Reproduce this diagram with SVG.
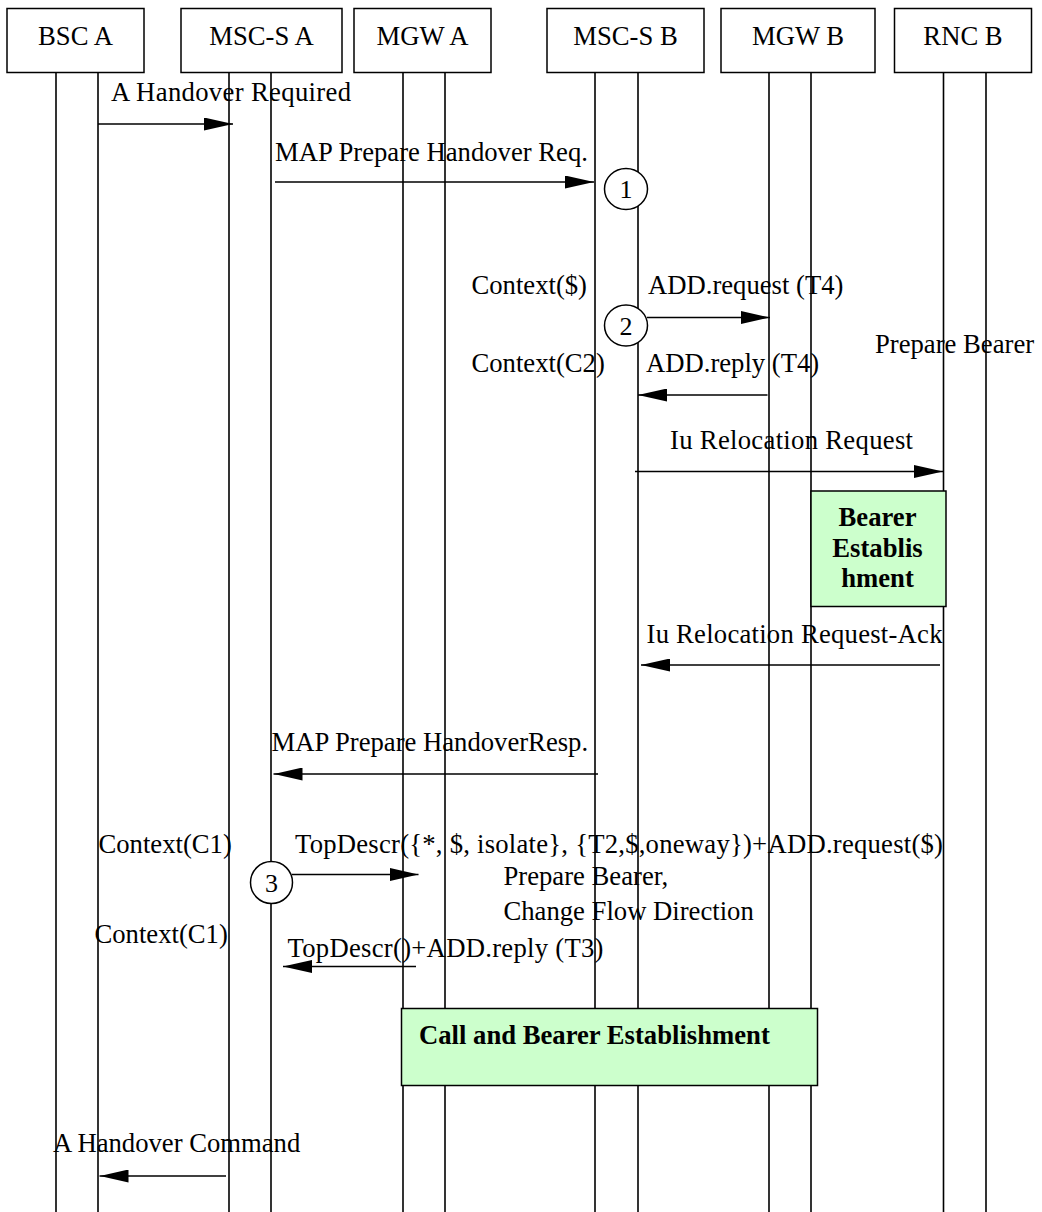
<svg xmlns="http://www.w3.org/2000/svg" width="1042" height="1212" viewBox="0 0 1042 1212">
<style>
text{font-family:"Liberation Serif","Times New Roman",serif;font-size:26.67px;fill:#000}
.hdr{fill:#fff;stroke:#000;stroke-width:1.5}
.life{stroke:#000;stroke-width:1.6}
.msg{stroke:#000;stroke-width:1.6;fill:none;marker-end:url(#ah)}
.note{fill:#CCFFCC;stroke:#000;stroke-width:1.5}
.circ{fill:#fff;stroke:#000;stroke-width:1.5}
.num{font-size:26px;text-anchor:middle}
.b{font-weight:bold}
.c{text-anchor:middle}
</style>
<defs>
<marker id="ah" markerUnits="userSpaceOnUse" markerWidth="29" markerHeight="13" refX="29" refY="6.5" orient="auto">
<path d="M0,0 L29,6.5 L0,13 z" fill="#000"/>
</marker>
</defs>
<rect width="1042" height="1212" fill="#fff"/>

<g id="bsc-a">
<line class="life" x1="56" y1="73" x2="56" y2="1212"/>
<line class="life" x1="98" y1="73" x2="98" y2="1212"/>
<rect class="hdr" x="7" y="8.5" width="137" height="64"/>
<text class="c" x="75.5" y="45">BSC A</text>
</g>
<g id="msc-s-a">
<line class="life" x1="229" y1="73" x2="229" y2="1212"/>
<line class="life" x1="271" y1="73" x2="271" y2="1212"/>
<rect class="hdr" x="181" y="8.5" width="161" height="64"/>
<text class="c" x="261.5" y="45">MSC-S A</text>
</g>
<g id="mgw-a">
<line class="life" x1="403" y1="73" x2="403" y2="1212"/>
<line class="life" x1="445" y1="73" x2="445" y2="1212"/>
<rect class="hdr" x="354" y="8.5" width="137" height="64"/>
<text class="c" x="422.5" y="45">MGW A</text>
</g>
<g id="msc-s-b">
<line class="life" x1="595" y1="73" x2="595" y2="1212"/>
<line class="life" x1="638" y1="73" x2="638" y2="1212"/>
<rect class="hdr" x="547" y="8.5" width="157" height="64"/>
<text class="c" x="625.5" y="45">MSC-S B</text>
</g>
<g id="mgw-b">
<line class="life" x1="769" y1="73" x2="769" y2="1212"/>
<line class="life" x1="811" y1="73" x2="811" y2="1212"/>
<rect class="hdr" x="721" y="8.5" width="154" height="64"/>
<text class="c" x="798" y="45">MGW B</text>
</g>
<g id="rnc-b">
<line class="life" x1="943.5" y1="73" x2="943.5" y2="1212"/>
<line class="life" x1="986" y1="73" x2="986" y2="1212"/>
<rect class="hdr" x="894.5" y="8.5" width="137" height="64"/>
<text class="c" x="963" y="45">RNC B</text>
</g>

<g id="connectors">
<line class="msg" x1="98" y1="124" x2="233" y2="124"/>
<line class="msg" x1="275" y1="182" x2="594" y2="182"/>
<line class="msg" x1="647" y1="317.5" x2="770" y2="317.5"/>
<line class="msg" x1="767.5" y1="395" x2="638" y2="395"/>
<line class="msg" x1="635" y1="471.5" x2="943" y2="471.5"/>
<line class="msg" x1="940" y1="665" x2="641" y2="665"/>
<line class="msg" x1="598" y1="774" x2="273.5" y2="774"/>
<line class="msg" x1="292" y1="874.5" x2="418.5" y2="874.5"/>
<line class="msg" x1="416" y1="966.5" x2="283" y2="966.5"/>
<line class="msg" x1="226" y1="1176" x2="99.5" y2="1176"/>
</g>

<g id="labels">
<text x="111" y="101" textLength="240" lengthAdjust="spacing">A Handover Required</text>
<text x="275" y="160.5">MAP Prepare Handover Req.</text>
<text x="471.5" y="293.5">Context($)</text>
<text x="648" y="293.5">ADD.request (T4)</text>
<text x="471.5" y="372">Context(C2)</text>
<text x="646" y="372">ADD.reply (T4)</text>
<text x="875" y="352.5">Prepare Bearer</text>
<text x="670" y="449" textLength="243" lengthAdjust="spacing">Iu Relocation Request</text>
<text x="646.5" y="643" textLength="296" lengthAdjust="spacing">Iu Relocation Request-Ack</text>
<text x="271.5" y="751">MAP Prepare HandoverResp.</text>
<text x="98.5" y="852.5">Context(C1)</text>
<text x="295" y="852.5" textLength="648" lengthAdjust="spacing">TopDescr({*, $, isolate}, {T2,$,oneway})+ADD.request($)</text>
<text x="503.5" y="885">Prepare Bearer,</text>
<text x="503.5" y="920">Change Flow Direction</text>
<text x="94.5" y="942.5">Context(C1)</text>
<text x="287.5" y="956.5" textLength="316" lengthAdjust="spacing">TopDescr()+ADD.reply (T3)</text>
<text x="53" y="1151.5">A Handover Command</text>
</g>

<g id="bearer-establishment">
<rect class="note" x="811" y="491" width="135" height="115.5"/>
<text class="b c" x="877.5" y="526">Bearer</text>
<text class="b c" x="877.5" y="556.5">Establis</text>
<text class="b c" x="877.5" y="586.5">hment</text>
</g>

<g id="call-bearer-establishment">
<rect class="note" x="401.5" y="1008.5" width="416" height="77"/>
<text class="b" x="419" y="1044">Call and Bearer Establishment</text>
</g>

<g id="step-1">
<ellipse class="circ" cx="626" cy="189" rx="21.5" ry="20.5"/>
<text class="num" x="626" y="198">1</text>
</g>
<g id="step-2">
<ellipse class="circ" cx="626" cy="325.5" rx="21.5" ry="20.5"/>
<text class="num" x="626" y="334.5">2</text>
</g>
<g id="step-3">
<ellipse class="circ" cx="271.5" cy="882.5" rx="21" ry="21"/>
<text class="num" x="271.5" y="891.5">3</text>
</g>
</svg>
